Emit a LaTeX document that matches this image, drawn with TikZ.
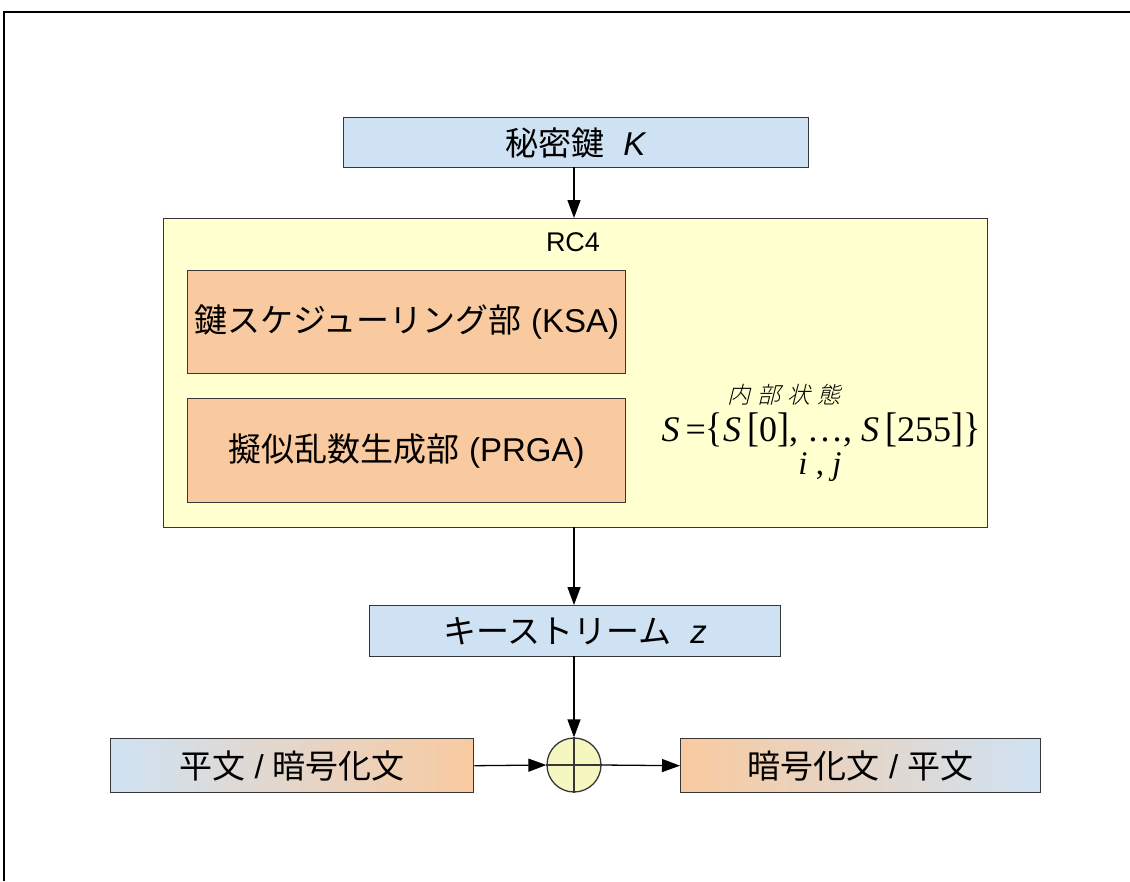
\documentclass[tikz,border=0pt]{standalone}
\usepackage{fontspec}
\usepackage{graphicx}
\setmainfont{Liberation Sans}
\newfontfamily\jp{Noto Sans CJK JP}
\newfontfamily\tms{Liberation Serif}
\newfontfamily\jpit[FakeSlant=0.25,LetterSpace=30]{Noto Sans CJK JP Light}
\usetikzlibrary{arrows.meta}
\definecolor{boxblue}{RGB}{207,226,243}
\definecolor{boxorange}{RGB}{249,202,160}
\definecolor{boxyellow}{RGB}{255,255,208}
\definecolor{xorfill}{RGB}{246,246,192}
\definecolor{edge}{RGB}{55,55,55}
\tikzset{
  blk/.style={draw=edge, line width=1.4pt, inner sep=0pt, anchor=north west},
  bluebox/.style={blk, fill=boxblue},
  orangebox/.style={blk, fill=boxorange},
  lbl/.style={font=\fontsize{33}{38}\selectfont, inner sep=0pt},
  arr/.style={line width=1.3pt, -{Triangle[length=18pt,width=13pt]}},
}
\newcommand{\tallb}[1]{\scalebox{1}[1.15]{#1}}
\begin{document}
\begin{tikzpicture}[x=1pt,y=-1pt]
\useasboundingbox (0,0) rectangle (1130,881);
\fill[white] (0,0) rectangle (1130,881);
% outer frame (top and left only visible)
\draw[line width=2pt] (4,881) -- (4,12) -- (1130,12);

% secret key
\node[bluebox, minimum width=465pt, minimum height=50pt] (key) at (343,117) {};
\node[lbl] (keyt) at (key.center) {{\jp 秘密鍵}\ \ \textit{K}};

% RC4 container
\node[blk, fill=boxyellow, minimum width=824pt, minimum height=309pt] (rc4) at (163,218) {};
\node[font=\fontsize{27}{30}\selectfont, inner sep=0pt] (rc4t) at (573,242) {RC4};

% KSA / PRGA
\node[orangebox, minimum width=438pt, minimum height=103pt] (ksa) at (187,270) {};
\node[lbl] (ksat) at (ksa.center) {{\jp 鍵スケジューリング部} (KSA)};
\node[orangebox, minimum width=438pt, minimum height=104pt] (prga) at (187,398) {};
\node[lbl] (prgat) at (prga.center) {{\jp 擬似乱数生成部} (PRGA)};

% internal state
\node[font=\fontsize{23}{26}\selectfont, inner sep=0pt] (st) at (784,395) {\jpit 内部状態};
\node[font=\tms\fontsize{36}{40}\selectfont, inner sep=0pt, anchor=base] (sset) at (821,441)
  {\textit{S}\,=\tallb{\{}\textit{S}\,\tallb{[}0\tallb{]}, \ldots, \textit{S}\,\tallb{[}255\tallb{]}\tallb{\}}};
\node[font=\tms\fontsize{33}{36}\selectfont, inner sep=0pt, anchor=base] (ij) at (820,474) {\textit{i}\ ,\ \textit{j}};

% keystream
\node[bluebox, minimum width=411pt, minimum height=51pt] (ks) at (369,605) {};
\node[lbl] (kst) at (ks.center) {{\jp キーストリーム}\ \ \textit{z}};

% XOR
\node[draw=edge, line width=1.3pt, fill=xorfill, circle, minimum size=54pt, inner sep=0pt] (xor) at (574,765) {};
\draw[edge, line width=1.1pt] (xor.north) -- (xor.south) (xor.west) -- (xor.east);

% plaintext / ciphertext
\node[blk, left color=boxblue, right color=boxorange, minimum width=363pt, minimum height=54pt] (pt) at (110,738) {};
\node[lbl] (ptt) at (pt.center) {{\jp 平文} / {\jp 暗号化文}};
\node[blk, left color=boxorange, right color=boxblue, minimum width=360pt, minimum height=54pt] (ct) at (680,738) {};
\node[lbl] (ctt) at (ct.center) {{\jp 暗号化文} / {\jp 平文}};

% connectors
\coordinate (a1) at (574,167);
\coordinate (a2) at (574,218);
\coordinate (a3) at (574,527);
\coordinate (a4) at (574,605);
\coordinate (a5) at (574,656);
\draw[arr] (a1) -- (a2);
\draw[arr] (a3) -- (a4);
\draw[arr] (a5) -- (xor.north);
\draw[arr] (pt.east) -- (xor.west);
\draw[arr] (xor.east) -- (ct.west);
\end{tikzpicture}
\end{document}
